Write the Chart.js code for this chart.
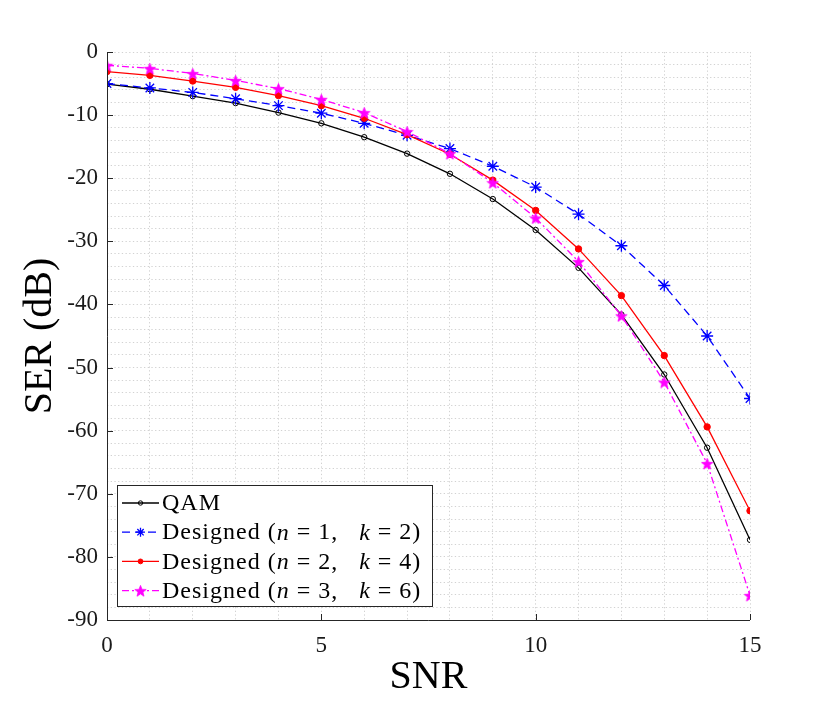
<!DOCTYPE html>
<html>
<head>
<meta charset="utf-8">
<script src="https://cdn.jsdelivr.net/npm/chart.js@4.4.1/dist/chart.umd.min.js"></script>
<style>
  html, body { margin: 0; padding: 0; background: #ffffff; }
  #wrap { width: 830px; height: 703px; }
</style>
</head>
<body>
<div id="wrap"><canvas id="serChart" width="830" height="703"></canvas></div>
<script>
// SNR points (x axis)
const snrValues = [0, 1, 2, 3, 4, 5, 6, 7, 8, 9, 10, 11, 12, 13, 14, 15];

// SER in dB
const serQam = [-5.1, -5.9, -7.0, -8.1, -9.6, -11.3, -13.5, -16.1, -19.3, -23.3, -28.2, -34.2, -41.6, -51.1, -62.7, -77.3];
const serN1K2 = [-5.0, -5.7, -6.4, -7.4, -8.5, -9.7, -11.3, -13.2, -15.3, -18.1, -21.4, -25.7, -30.7, -37.0, -45.0, -54.9];
const serN2K4 = [-3.1, -3.7, -4.6, -5.6, -6.9, -8.5, -10.5, -13.1, -16.2, -20.3, -25.1, -31.2, -38.6, -48.1, -59.4, -72.7];
const serN3K6 = [-2.1, -2.6, -3.4, -4.5, -5.8, -7.5, -9.6, -12.6, -16.1, -20.7, -26.3, -33.2, -41.8, -52.3, -65.2, -86.1];

// legend text pieces (italic pieces are the math variables)
const legendLabels = [
    [["QAM", false]],
    [["Designed (", false], ["n", true], [" = 1,   ", false], ["k", true], [" = 2)", false]],
    [["Designed (", false], ["n", true], [" = 2,   ", false], ["k", true], [" = 4)", false]],
    [["Designed (", false], ["n", true], [" = 3,   ", false], ["k", true], [" = 6)", false]]
];

const xTitle = "SNR";
const yTitle = "SER (dB)";

const serif = "'Liberation Serif', 'DejaVu Serif', serif";

// five pointed star marker, Chart.js has none
function makePentagram(size, color) {
    const c = document.createElement('canvas');
    c.width = size; c.height = size;
    const g = c.getContext('2d');
    const r = size / 2 - 0.5, ri = r * 0.42;
    g.beginPath();
    for (let i = 0; i < 10; i++) {
        const rad = i % 2 === 0 ? r : ri;
        const a = -Math.PI / 2 + i * Math.PI / 5;
        const px = size / 2 + rad * Math.cos(a), py = size / 2 + 0.8 + rad * Math.sin(a);
        if (i === 0) g.moveTo(px, py); else g.lineTo(px, py);
    }
    g.closePath();
    g.fillStyle = color;
    g.fill();
    g.strokeStyle = color;
    g.lineWidth = 0.8;
    g.stroke();
    return c;
}
const starMarker = makePentagram(13, '#ff00ff');

const seriesStyles = [
    { color: '#000000', dash: [], point: 'circle', radius: 2.7, fill: 'rgba(0,0,0,0)', pw: 1 },
    { color: '#0000ff', dash: [8, 5], point: 'star', radius: 6, fill: '#0000ff', pw: 1.3 },
    { color: '#ff0000', dash: [], point: 'circle', radius: 3.2, fill: '#ff0000', pw: 1 },
    { color: '#ff00ff', dash: [7, 3, 2, 3], point: starMarker, radius: 6, fill: '#ff00ff', pw: 1 }
];

function makeDataset(values, i) {
    const s = seriesStyles[i];
    return {
        label: legendLabels[i].map(p => p[0]).join(''),
        data: snrValues.map((x, j) => ({ x: x, y: values[j] })),
        borderColor: s.color,
        borderWidth: 1.3,
        borderDash: s.dash,
        backgroundColor: s.fill,
        pointStyle: s.point,
        pointRadius: s.radius,
        pointBorderColor: s.color,
        pointBackgroundColor: s.fill,
        pointBorderWidth: s.pw,
        tension: 0,
        fill: false,
        order: 4 - i
    };
}

// axes lines, inward ticks, titles and the boxed legend
const matlabLook = {
    id: 'matlabLook',
    afterDraw(chart) {
        const ctx = chart.ctx;
        const area = chart.chartArea;
        const xs = chart.scales.x, ys = chart.scales.y;
        ctx.save();
        ctx.strokeStyle = '#262626';
        ctx.lineWidth = 1;
        ctx.beginPath();
        ctx.moveTo(area.left + 0.5, area.top);
        ctx.lineTo(area.left + 0.5, area.bottom + 0.5);
        ctx.lineTo(area.right, area.bottom + 0.5);
        ctx.stroke();
        ctx.beginPath();
        for (let v = 0; v >= -90; v -= 10) {
            const py = Math.round(ys.getPixelForValue(v)) + 0.5;
            ctx.moveTo(area.left, py);
            ctx.lineTo(area.left + 6, py);
        }
        for (let v = 0; v <= 15; v += 5) {
            const px = Math.round(xs.getPixelForValue(v)) + 0.5;
            ctx.moveTo(px, area.bottom);
            ctx.lineTo(px, area.bottom - 6);
        }
        ctx.stroke();

        // axis titles
        ctx.fillStyle = '#000000';
        ctx.font = '40px ' + serif;
        ctx.textAlign = 'center';
        ctx.textBaseline = 'middle';
        ctx.fillText(xTitle, (area.left + area.right) / 2, 677);
        ctx.save();
        ctx.translate(40, (area.top + area.bottom) / 2);
        ctx.rotate(-Math.PI / 2);
        ctx.fillText(yTitle, 0, 0);
        ctx.restore();

        // legend
        const lx = 117, ly = 485, lw = 315, lh = 121;
        ctx.fillStyle = '#ffffff';
        ctx.fillRect(lx, ly, lw, lh);
        ctx.strokeStyle = '#262626';
        ctx.lineWidth = 1;
        ctx.strokeRect(lx + 0.5, ly + 0.5, lw, lh);
        chart.data.datasets.forEach((ds, i) => {
            const s = seriesStyles[i];
            const cy = 503 + i * 29.2;
            ctx.strokeStyle = s.color;
            ctx.lineWidth = 1.3;
            ctx.setLineDash(s.dash);
            ctx.beginPath();
            ctx.moveTo(122, cy);
            ctx.lineTo(159, cy);
            ctx.stroke();
            ctx.setLineDash([]);
            ctx.fillStyle = s.fill;
            ctx.strokeStyle = s.color;
            ctx.lineWidth = s.pw;
            Chart.helpers.drawPoint(ctx, {
                pointStyle: s.point,
                radius: i === 3 ? 6 : (i === 0 ? 2.2 : s.radius * 0.75),
                borderWidth: s.pw,
                rotation: 0
            }, 140.5, cy);
            let tx = 162;
            ctx.fillStyle = '#000000';
            ctx.textAlign = 'left';
            ctx.textBaseline = 'middle';
            ctx.letterSpacing = '1px';
            legendLabels[i].forEach(part => {
                ctx.font = (part[1] ? 'italic ' : '') + '24px ' + serif;
                ctx.fillText(part[0], tx, cy + 1);
                tx += ctx.measureText(part[0]).width;
            });
            ctx.letterSpacing = '0px';
        });
        ctx.restore();
    }
};

const ctx = document.getElementById('serChart').getContext('2d');
const serChart = new Chart(ctx, {
    type: 'line',
    data: {
        datasets: [
            makeDataset(serQam, 0),
            makeDataset(serN1K2, 1),
            makeDataset(serN2K4, 2),
            makeDataset(serN3K6, 3)
        ]
    },
    options: {
        responsive: false,
        animation: false,
        devicePixelRatio: 1,
        layout: { padding: { left: 0, right: 80, top: 52, bottom: 0 } },
        plugins: {
            legend: { display: false },
            tooltip: { enabled: false }
        },
        scales: {
            x: {
                type: 'linear',
                min: 0,
                max: 15,
                afterFit: (scale) => { scale.height = 83; },
                // in v4 border.dash styles the grid lines (dotted, like grid minor)
                border: { display: false, dash: [1.3, 2.4] },
                grid: {
                    color: '#d2d2d2',
                    lineWidth: 1,
                    drawTicks: false
                },
                ticks: {
                    stepSize: 1,
                    autoSkip: false,
                    maxRotation: 0,
                    padding: 12,
                    color: '#1a1a1a',
                    font: { family: serif, size: 23 },
                    callback: (v) => (v % 5 === 0 ? String(v) : '')
                }
            },
            y: {
                type: 'linear',
                min: -90,
                max: 0,
                afterFit: (scale) => { scale.width = 107; },
                border: { display: false, dash: [1.3, 2.4] },
                grid: {
                    color: '#d2d2d2',
                    lineWidth: 1,
                    drawTicks: false
                },
                ticks: {
                    stepSize: 2,
                    autoSkip: false,
                    padding: 9,
                    color: '#1a1a1a',
                    font: { family: serif, size: 23 },
                    callback: (v) => (v % 10 === 0 ? String(v) : '')
                }
            }
        }
    },
    plugins: [matlabLook]
});
</script>
</body>
</html>
